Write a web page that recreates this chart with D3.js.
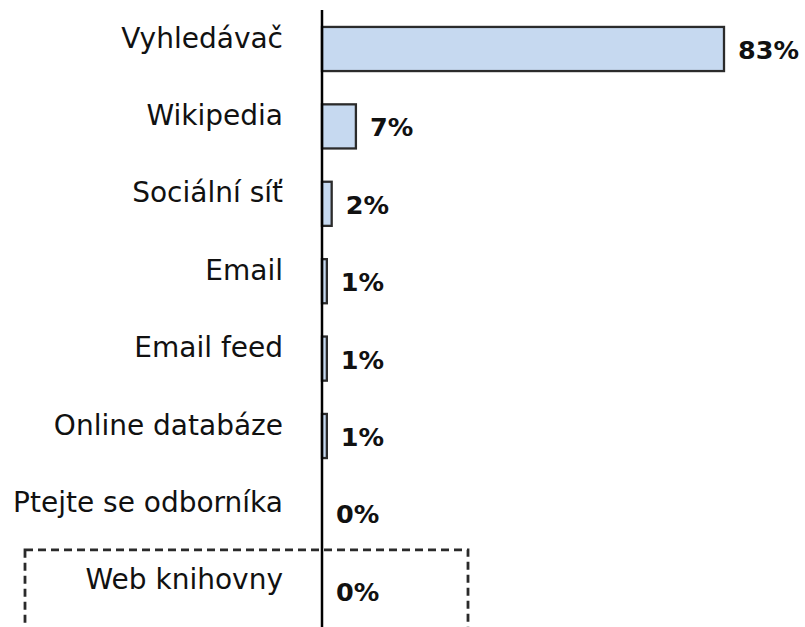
<!DOCTYPE html>
<html>
<head>
<meta charset="utf-8">
<script src="https://cdn.jsdelivr.net/npm/d3@7"></script>
<style>
  html, body { margin: 0; padding: 0; background: #fff; }
  svg { display: block; }
</style>
</head>
<body>
<svg id="chart" width="805" height="627"></svg>
<script>
const categories = ["Vyhledávač", "Wikipedia", "Sociální síť", "Email", "Email feed", "Online databáze", "Ptejte se odborníka", "Web knihovny"];
const values = [83, 7, 2, 1, 1, 1, 0, 0];
const valueLabels = ["83%", "7%", "2%", "1%", "1%", "1%", "0%", "0%"];
const highlighted = ["Web knihovny"];

const svg = d3.select("#chart");
const W = 805, H = 627;

const x = d3.scaleLinear().domain([0, 83]).range([322, 724]);
const y = d3.scaleBand().domain(categories).range([10.3, 629.5]).paddingInner(0.43).paddingOuter(0.215);

const data = categories.map((c, i) => ({ cat: c, v: values[i], label: valueLabels[i] }));

// dashed highlight box
highlighted.forEach(c => {
  const cy = y(c) + y.bandwidth() / 2;
  svg.append("rect")
    .attr("x", 25).attr("y", cy - 41)
    .attr("width", 443).attr("height", 120)
    .attr("fill", "none")
    .attr("stroke", "#2a2a2a")
    .attr("stroke-width", 2.8)
    .attr("stroke-dasharray", "8,5");
});

// bars
svg.selectAll("rect.bar").data(data.filter(d => d.v > 0)).join("rect")
  .attr("class", "bar")
  .attr("x", x(0))
  .attr("y", d => y(d.cat))
  .attr("width", d => x(d.v) - x(0))
  .attr("height", y.bandwidth())
  .attr("fill", "#c6d9f0")
  .attr("stroke", "#2b2b2b")
  .attr("stroke-width", 2.3);

// axis line
const axis = d3.axisLeft(y).tickSize(0).tickFormat("");
svg.append("g").attr("transform", `translate(${x(0)},0)`).call(axis)
  .call(g => g.select(".domain").attr("d", `M0,10V${H}`).attr("stroke", "#000").attr("stroke-width", 2.5));

// category labels
svg.selectAll("text.cat").data(data).join("text")
  .attr("class", "cat")
  .attr("x", 283)
  .attr("y", d => y(d.cat) + y.bandwidth() / 2 - 11)
  .attr("text-anchor", "end")
  .attr("dominant-baseline", "central")
  .attr("font-family", "DejaVu Sans, Verdana, sans-serif")
  .attr("font-size", 28)
  .attr("fill", "#111")
  .text(d => d.cat);

// value labels
svg.selectAll("text.val").data(data).join("text")
  .attr("class", "val")
  .attr("x", d => x(d.v) + 14)
  .attr("y", d => y(d.cat) + y.bandwidth() / 2 + 1)
  .attr("text-anchor", "start")
  .attr("dominant-baseline", "central")
  .attr("font-family", "DejaVu Sans, Verdana, sans-serif")
  .attr("font-weight", "bold")
  .attr("font-size", 25.5)
  .attr("fill", "#111")
  .text(d => d.label);
</script>
</body>
</html>
